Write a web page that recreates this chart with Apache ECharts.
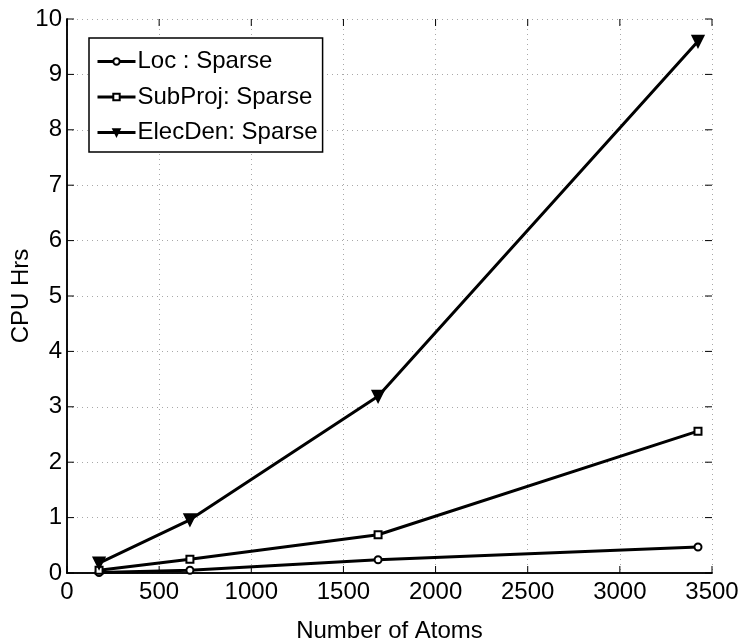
<!DOCTYPE html>
<html>
<head>
<meta charset="utf-8">
<style>
  html, body { margin: 0; padding: 0; background: #fff; }
  #chart { width: 745px; height: 644px; }
</style>
<script src="https://cdn.jsdelivr.net/npm/echarts@6/dist/echarts.min.js"></script>
</head>
<body>
<div id="chart"></div>
<script>
// Number of atoms for each run
const atoms = [174, 667, 1688, 3424];
// CPU hours per phase
const locSparse = [0.01, 0.05, 0.24, 0.47];
const subProjSparse = [0.05, 0.25, 0.69, 2.56];
const elecDenSparse = [0.18, 0.96, 3.19, 9.6];

const seriesNames = ['Loc : Sparse', 'SubProj: Sparse', 'ElecDen: Sparse'];
const xTicks = [0, 500, 1000, 1500, 2000, 2500, 3000, 3500];
const yTicks = [0, 1, 2, 3, 4, 5, 6, 7, 8, 9, 10];

const X_MIN = 0, X_MAX = 3500, Y_MIN = 0, Y_MAX = 10;
const TICK_LEN = 7;

const font = 'Liberation Sans, Arial, Helvetica, sans-serif';
const pairs = ys => atoms.map((x, i) => [x, ys[i]]);

const chart = echarts.init(document.getElementById('chart'), null, { renderer: 'canvas' });

const gridLine = { show: true, lineStyle: { color: '#a8a8a8', type: [1, 4], width: 1 } };
const axisLineBlack = { show: true, lineStyle: { color: '#000', width: 1.5 } };

const mkSeries = (name, ys, symbol, size, filled) => ({
  name,
  type: 'line',
  data: pairs(ys),
  symbol,
  symbolSize: size,
  showAllSymbol: true,
  lineStyle: { color: '#000', width: 3 },
  itemStyle: { color: filled ? '#000' : '#fff', borderColor: '#000', borderWidth: 2 },
  emphasis: { disabled: true },
  animation: false,
  z: 3
});

const tickStyle = { stroke: '#000', lineWidth: 1 };
const seg = (a, dx, dy) => ({
  type: 'line',
  shape: { x1: a[0], y1: a[1], x2: a[0] + dx, y2: a[1] + dy },
  style: tickStyle
});

// Inward ticks on all four sides of the frame
const xTickSeries = {
  type: 'custom',
  silent: true,
  z: 4,
  data: xTicks.map(v => [v, Y_MIN]),
  renderItem: (params, api) => {
    const v = api.value(0);
    const b = api.coord([v, Y_MIN]);
    const t = api.coord([v, Y_MAX]);
    return { type: 'group', children: [seg(b, 0, -TICK_LEN), seg(t, 0, TICK_LEN)] };
  }
};
const yTickSeries = {
  type: 'custom',
  silent: true,
  z: 4,
  data: yTicks.map(v => [X_MIN, v]),
  renderItem: (params, api) => {
    const v = api.value(1);
    const l = api.coord([X_MIN, v]);
    const r = api.coord([X_MAX, v]);
    return { type: 'group', children: [seg(l, TICK_LEN, 0), seg(r, -TICK_LEN, 0)] };
  }
};

chart.setOption({
  animation: false,
  backgroundColor: '#fff',
  grid: { left: 67, right: 33, top: 19, bottom: 71, containLabel: false, outerBoundsMode: 'none' },
  legend: {
    left: 89,
    top: 38,
    orient: 'vertical',
    data: seriesNames,
    itemWidth: 38,
    itemHeight: 8,
    itemGap: 8.5,
    padding: [10, 5, 6, 7],
    borderColor: '#000',
    borderWidth: 1.5,
    backgroundColor: '#fff',
    lineStyle: { width: 3, color: '#000' },
    textStyle: { fontFamily: font, fontSize: 24, color: '#000', padding: [0, 0, 0, -3], lineHeight: 27 },
    selectedMode: false
  },
  xAxis: [
    {
      type: 'value', min: X_MIN, max: X_MAX, interval: 500,
      name: 'Number of Atoms', nameLocation: 'middle', nameGap: 46,
      nameTextStyle: { fontFamily: font, fontSize: 24, color: '#000' },
      axisLine: axisLineBlack, axisTick: { show: false }, splitLine: gridLine,
      axisLabel: { fontFamily: font, fontSize: 24, color: '#000', margin: 7,
        formatter: v => xTicks.includes(v) ? String(v) : '' }
    },
    {
      type: 'value', min: X_MIN, max: X_MAX, interval: 500, position: 'top',
      axisLine: axisLineBlack, axisTick: { show: false }, splitLine: { show: false },
      axisLabel: { show: false }
    }
  ],
  yAxis: [
    {
      type: 'value', min: Y_MIN, max: Y_MAX, interval: 1,
      name: 'CPU Hrs', nameLocation: 'middle', nameGap: 34, nameMoveOverlap: false,
      nameTextStyle: { fontFamily: font, fontSize: 24, color: '#000' },
      axisLine: axisLineBlack, axisTick: { show: false }, splitLine: gridLine,
      axisLabel: { fontFamily: font, fontSize: 24, color: '#000', margin: 5,
        formatter: v => yTicks.includes(v) ? String(v) : '' }
    },
    {
      type: 'value', min: Y_MIN, max: Y_MAX, interval: 1, position: 'right',
      axisLine: axisLineBlack, axisTick: { show: false }, splitLine: { show: false },
      axisLabel: { show: false }
    }
  ],
  series: [
    mkSeries(seriesNames[0], locSparse, 'circle', 7, false),
    mkSeries(seriesNames[1], subProjSparse, 'rect', 7, false),
    mkSeries(seriesNames[2], elecDenSparse, 'path://M0,0 L10,0 L5,9 Z', 11, true),
    xTickSeries,
    yTickSeries
  ]
});
</script>
</body>
</html>
